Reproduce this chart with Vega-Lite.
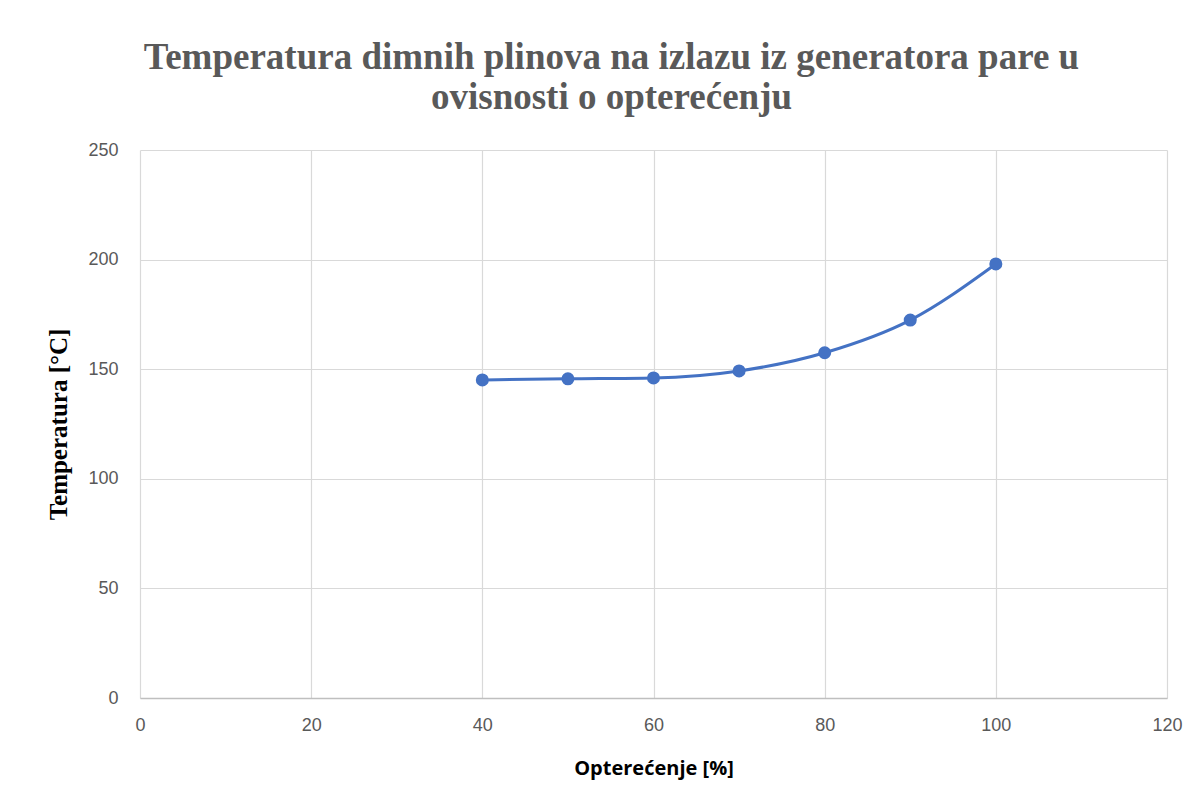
{
  "$schema": "https://vega.github.io/schema/vega-lite/v6.json",
  "width": 1027,
  "height": 548,
  "padding": {"left": 140, "top": 150, "right": 35, "bottom": 112},
  "autosize": {"type": "none"},
  "background": "white",
  "title": {
    "text": ["Temperatura dimnih plinova na izlazu iz generatora pare u", "ovisnosti o opterećenju"],
    "font": "Liberation Serif",
    "fontSize": 37,
    "fontWeight": "bold",
    "color": "#595959",
    "anchor": "middle",
    "dx": -42,
    "offset": 24,
    "lineHeight": 40
  },
  "data": {
    "values": [
      {"load": 40, "temp": 145.1},
      {"load": 50, "temp": 145.6},
      {"load": 60, "temp": 146.0},
      {"load": 70, "temp": 149.2},
      {"load": 80, "temp": 157.5},
      {"load": 90, "temp": 172.4},
      {"load": 100, "temp": 198.0}
    ]
  },
  "config": {
    "view": {"stroke": null},
    "axis": {
      "gridColor": "#d9d9d9",
      "gridWidth": 1.2,
      "labelColor": "#595959",
      "labelFont": "Liberation Sans",
      "labelFontSize": 18,
      "labelFlush": false,
      "ticks": false,
      "domain": false
    }
  },
  "encoding": {
    "x": {
      "field": "load",
      "type": "quantitative",
      "scale": {"domain": [0, 120], "nice": false},
      "axis": {
        "values": [0, 20, 40, 60, 80, 100, 120],
        "title": "Opterećenje [%]",
        "titleFont": "Open Sans",
        "titleFontSize": 20,
        "titleFontWeight": "bold",
        "titleColor": "#000000",
        "titlePadding": 24,
        "labelPadding": 18,
        "domain": true,
        "domainColor": "#bfbfbf",
        "domainWidth": 1.5
      }
    },
    "y": {
      "field": "temp",
      "type": "quantitative",
      "scale": {"domain": [0, 250], "nice": false},
      "axis": {
        "values": [0, 50, 100, 150, 200, 250],
        "title": "Temperatura [°C]",
        "titleFont": "Liberation Serif",
        "titleFontSize": 25,
        "titleFontWeight": "bold",
        "titleColor": "#000000",
        "titlePadding": 16,
        "labelPadding": 22
      }
    }
  },
  "layer": [
    {
      "mark": {"type": "line", "color": "#4472C4", "strokeWidth": 3, "interpolate": "monotone"}
    },
    {
      "mark": {"type": "point", "filled": true, "color": "#4472C4", "size": 170, "opacity": 1}
    }
  ]
}
